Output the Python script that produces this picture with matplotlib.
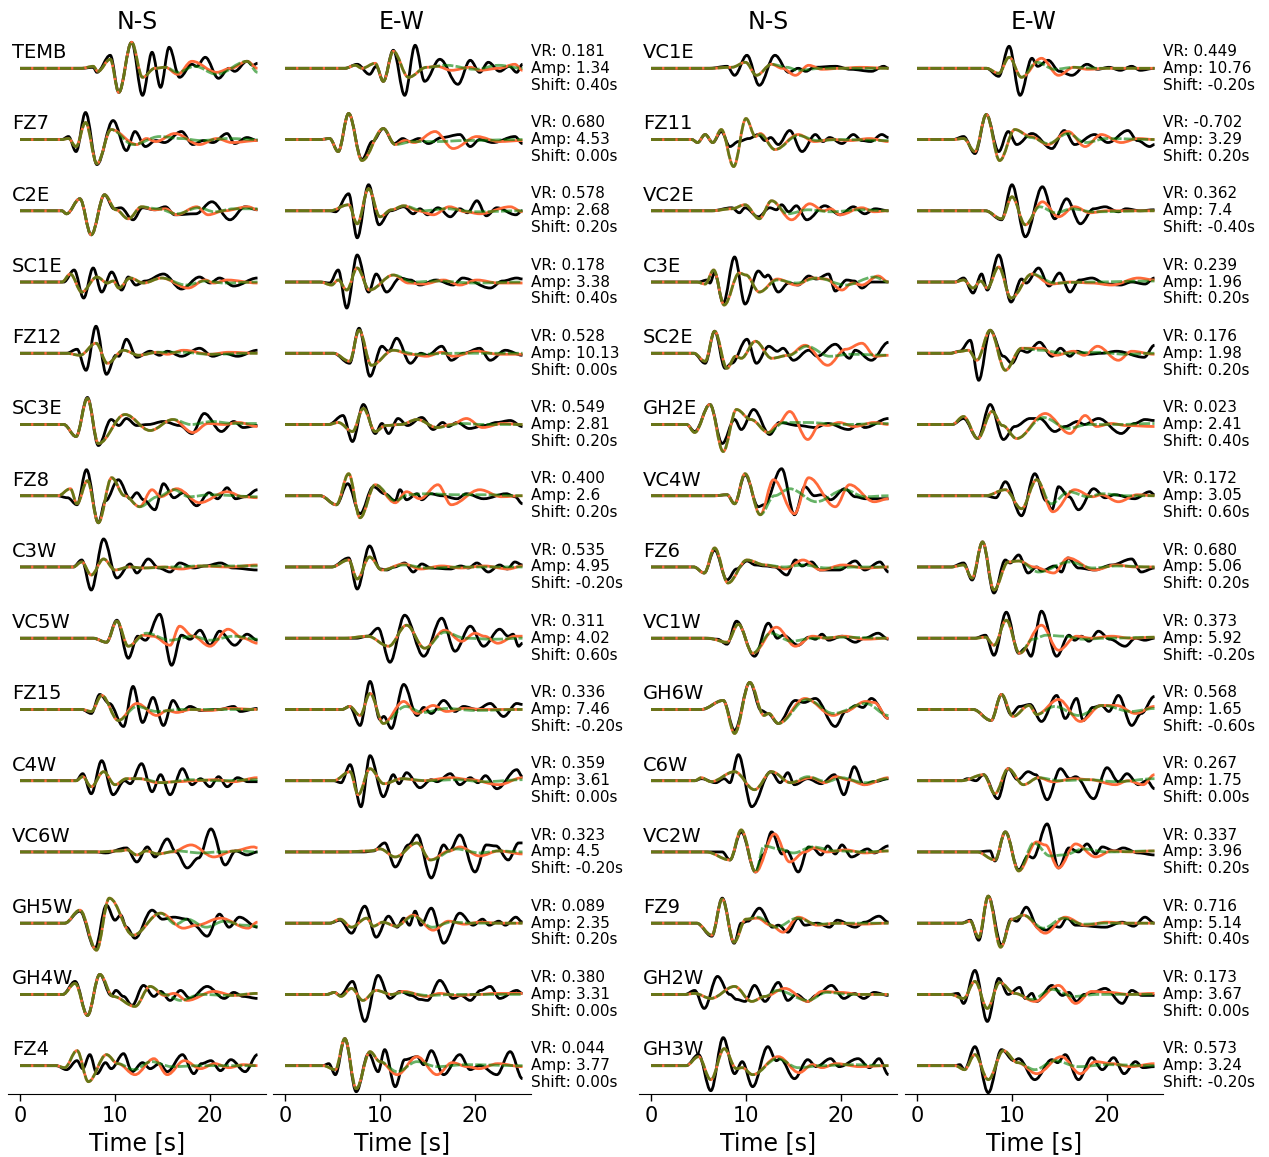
import matplotlib
matplotlib.use("Agg")
import matplotlib.pyplot as plt
from matplotlib.path import Path
from matplotlib.patches import PathPatch

# ---------------- data ----------------
left_stations = ["TEMB", "FZ7", "C2E", "SC1E", "FZ12", "SC3E", "FZ8", "C3W", "VC5W",
                 "FZ15", "C4W", "VC6W", "GH5W", "GH4W", "FZ4"]
left_vr = [0.181, 0.680, 0.578, 0.178, 0.528, 0.549, 0.400, 0.535, 0.311,
           0.336, 0.359, 0.323, 0.089, 0.380, 0.044]
left_amp = [1.34, 4.53, 2.68, 3.38, 10.13, 2.81, 2.6, 4.95, 4.02,
            7.46, 3.61, 4.5, 2.35, 3.31, 3.77]
left_shift = [0.40, 0.00, 0.20, 0.40, 0.00, 0.20, 0.20, -0.20, 0.60,
              -0.20, 0.00, -0.20, 0.20, 0.00, 0.00]

right_stations = ["VC1E", "FZ11", "VC2E", "C3E", "SC2E", "GH2E", "VC4W", "FZ6", "VC1W",
                  "GH6W", "C6W", "VC2W", "FZ9", "GH2W", "GH3W"]
right_vr = [0.449, -0.702, 0.362, 0.239, 0.176, 0.023, 0.172, 0.680, 0.373,
            0.568, 0.267, 0.337, 0.716, 0.173, 0.573]
right_amp = [10.76, 3.29, 7.4, 1.96, 1.98, 2.41, 3.05, 5.06, 5.92,
             1.65, 1.75, 3.96, 5.14, 3.67, 3.24]
right_shift = [-0.20, 0.20, -0.40, 0.20, 0.20, 0.40, 0.60, 0.20, -0.20,
               -0.60, 0.00, 0.20, 0.40, 0.00, -0.20]

# waveform extrema (time [s], normalised amplitude)
# ---- left block, N-S ----
obs_left_ns = [
    [(6.5,0),(7.7,1),(8.1,-4),(9.5,13),(10.4,-24),(11.75,26),(12.9,-27),(13.9,16),(14.8,-19),(15.7,21),(16.8,-9),(18.1,4),(18.6,2),(19.5,11),(20.9,-10),(22.0,0),(22.6,-3),(23.9,7),(24.5,3),(25,5)],
    [(4.4,0),(5.1,3),(5.9,-12),(6.9,27),(8.1,-25),(9.8,19),(11.2,-11),(12.1,8),(13.2,-7),(14.3,-1),(15.2,-3),(17.0,8),(18.2,-5),(19.3,-1),(20.3,-3),(21.8,6),(22.6,-4),(23.9,2),(25,-1)],
    [(4.4,0),(4.9,-3),(6.3,12),(7.5,-24),(8.9,16),(9.9,2),(10.6,3),(11.9,-9),(12.9,3),(14.2,1),(15.3,4),(16.3,-4),(18.5,-3),(20.2,9),(22.1,-9),(23.7,4),(25,1)],
    [(4.6,0),(5.7,12),(6.7,-16),(7.7,14),(8.6,-10),(9.65,10),(10.7,-8),(11.4,5),(12.2,-3),(13.2,1),(15.1,8),(17.0,-7),(18.9,5),(20.0,-1),(21.0,4),(22.5,-4),(25,4)],
    [(4.9,0),(6.0,4),(6.95,-17),(8.0,27),(9.1,-21),(10.1,-2),(10.4,-3),(11.2,14),(12.3,-4),(13.7,2),(14.7,-2),(15.5,2),(17.0,-3),(18.9,5),(20.3,-3),(21.5,0),(22.9,-3),(25,3)],
    [(4.6,0),(5.9,-12),(7.1,27),(8.25,-21),(9.6,5),(10.4,-1),(11.2,6),(12.3,-1),(13.5,0),(15.1,3),(16.8,-1),(18.1,-9),(19.4,11),(21.2,-7),(22.5,3),(23.5,-3),(25,-1)],
    [(3.9,0),(5.0,-2),(6.0,-9),(7.0,26),(8.25,-27),(9.0,-5),(10.35,16),(11.6,-3),(12.3,3),(13.0,-4),(14.2,-14),(15.1,12),(16.2,-2),(17.2,3),(18.6,-10),(19.9,3),(20.8,-3),(21.8,8),(22.7,-3),(23.7,-1),(25,6)],
    [(5.6,0),(6.5,7),(7.5,-23),(8.8,28),(10.2,-11),(11.6,3),(12.3,-6),(13.5,8),(14.6,-1),(15.8,-5),(16.8,4),(18.3,-1),(19.5,1),(21.1,4),(22.4,-1),(25,-3)],
    [(7.7,0),(9.1,-4),(10.2,18),(11.4,-20),(12.4,2),(13.2,-2),(14.7,24),(15.96,-27),(17.0,3),(17.9,-1),(18.95,8),(20.0,-7),(21.0,7),(22.6,-7),(23.9,4),(25,-2)],
    [(6.5,0),(7.5,-4),(8.4,15),(9.4,6),(10.9,-17),(11.9,23),(12.9,-13),(14.0,12),(15.1,-16),(16.1,9),(17.0,-2),(17.9,3),(19.0,-1),(21,0),(22.5,3),(23.2,-2),(25,1)],
    [(5.9,0),(6.6,7),(7.5,-13),(8.6,20),(9.8,-14),(11.0,0),(11.6,-3),(12.8,17),(13.9,-11),(14.8,6),(15.8,-14),(17.1,12),(18.1,-4),(19.0,2),(20.0,-6),(20.9,4),(21.8,-6),(22.9,3),(24,-1),(25,-1)],
    [(8.0,0),(9.0,-1),(11.2,4),(12.3,-10),(13.4,5),(14.2,-5),(15.5,13),(16.4,0),(17.6,-16),(18.8,-6),(20.1,23),(21.6,-13),(22.7,1),(23.9,-3),(25,0)],
    [(4.7,0),(6.3,12),(7.9,-25),(9.1,18),(10.0,3),(10.6,8),(11.2,-4),(12.1,-15),(13.9,13),(15.0,4),(16.2,6),(17.6,4),(18.3,-2),(19.7,-13),(21.0,9),(22.0,-4),(23.1,6),(25,-4)],
    [(4.5,0),(5.8,13),(7.1,-21),(8.4,20),(9.6,-1),(10.1,4),(10.9,-2),(11.8,-11),(13.0,9),(14.1,-2),(14.8,3),(15.8,-6),(16.9,4),(17.9,-4),(19.7,8),(21.5,-4),(22.5,2),(23.5,-2),(25,-4)],
    [(3.8,0),(4.9,-4),(6.0,5),(6.6,-3),(7.35,11),(8.1,-8),(9.0,3),(9.6,-3),(10.9,12),(11.8,-6),(12.9,3),(13.7,-3),(14.7,2),(15.5,-6),(17.1,11),(18.3,-8),(19.1,2),(20.1,5),(21.1,-5),(22.2,6),(23.7,-6),(25,11)],
]
syn_left_ns = [
    [(6.5,0),(7.7,2),(8.2,-3),(9.5,9),(10.4,-24),(11.75,26),(12.9,-9),(14.2,0),(15.3,1),(16.6,-6),(18.1,7),(20.7,-4),(22.2,0),(23.9,7),(25,0)],
    [(4.4,0),(5.1,1),(5.9,-7),(6.9,17),(8.1,-24),(9.6,10),(12.3,-5),(13.3,1),(14.3,-2),(16.3,6),(18.9,-5),(20.7,1),(22.3,-3),(25,-1)],
    [(4.4,0),(4.9,-3),(6.3,12),(7.5,-24),(8.9,16),(10.1,1),(11.4,-8),(12.8,4),(14.2,1),(15.3,2),(16.5,-4),(18.6,4),(19.8,-4),(21.5,0),(24.0,4),(25,1)],
    [(4.4,0),(5.3,8),(6.5,-10),(8.1,5),(9.2,-1),(9.8,1),(10.4,-6),(11.6,4),(13.0,-1),(14.9,4),(17.7,-6),(19.5,2),(20.4,-1),(21.8,2),(25,-1)],
    [(4.9,0),(6.3,-2),(8.0,10),(9.2,-10),(10.9,3),(12.5,-2),(14.5,1),(15.5,-1),(17.2,3),(20.0,-1),(22,1),(25,0)],
    [(4.6,0),(5.9,-12),(7.1,26),(8.25,-19),(11.05,10),(13.7,-6),(16.1,5),(18.2,-8),(19.8,1),(21.5,0),(23,2),(25,-2)],
    [(4.0,0),(5.3,7),(6.0,-8),(7.1,15),(8.25,-27),(9.65,18),(11.0,0),(12.6,-11),(13.9,6),(14.8,-1),(16.5,7),(18.9,-7),(21.8,4),(23.5,-1),(25,-2)],
    [(5.6,0),(6.5,5),(7.5,-8),(8.8,8),(10.0,-3),(11.5,0),(13,-1),(15,0),(17,-2),(19,1),(22,0),(25,2)],
    [(7.7,0),(9.1,-4),(10.2,17),(11.4,-8),(13.0,3),(14.0,2),(15.8,-7),(16.8,12),(18.2,2),(20.0,-8),(21.9,9),(23.5,0),(25,-5)],
    [(6.5,0),(7.5,-2),(8.6,14),(10.35,-11),(12.3,6),(14.4,-6),(15.5,-1),(16.5,-3),(18,0),(20,-1),(22,1),(25,0)],
    [(5.9,0),(6.6,4),(7.5,-6),(8.8,9),(10.0,-4),(11.2,2),(12.6,2),(14.5,-2),(16.5,-1),(18.5,0),(20.5,1),(22.5,-1),(25,3)],
    [(8.0,0),(10.5,1),(11.3,2),(12.3,-3),(13.3,1),(14.5,-2),(16.0,0),(18.0,7),(20.4,-5),(22.5,1),(24.6,5),(25,4)],
    [(4.7,0),(6.3,13),(8.05,-27),(9.4,25),(11.9,-12),(14.8,10),(17.2,-5),(18.6,-2),(21.1,5),(24.0,-5),(25,1)],
    [(4.5,0),(5.8,11),(7.1,-21),(8.4,20),(9.8,-2),(12.1,-12),(13.7,8),(15.2,-1),(16.2,1),(17.6,-6),(20.4,3),(22.5,-1),(25,1)],
    [(3.8,0),(4.7,-2),(6.0,15),(7.2,-16),(9.1,11),(10.3,2),(12.1,-9),(14.1,7),(15.5,-9),(17.3,5),(19.0,-3),(20.5,2),(22.0,-2),(23.5,1),(25,0)],
]
alt_left_ns = [
    [(6.5,0),(7.7,2),(8.2,-3),(9.5,9),(10.4,-24),(11.75,26),(12.9,-9),(14.2,0),(15.3,1),(16.6,-4),(18.4,2),(20.7,-6),(23.9,7),(25,-4)],
    [(4.4,0),(5.1,1),(5.9,-7),(6.9,17),(8.1,-24),(9.6,10),(11.9,-5),(14.7,3),(17,1),(19,-1),(22,1),(25,0)],
    [(4.4,0),(4.9,-3),(6.3,12),(7.5,-24),(8.9,16),(10.1,1),(11.4,-8),(12.8,4),(14.5,2),(16.5,-3),(18.8,3),(20.5,-1),(22.5,2),(25,2)],
    [(4.4,0),(5.3,8),(6.5,-10),(8.1,5),(9.2,-1),(9.8,1),(10.4,-6),(11.6,4),(13.0,-1),(14.9,4),(17.5,-3),(19.5,1),(21.5,-1),(25,0)],
    [(4.9,0),(6.3,-2),(8.0,10),(9.2,-10),(10.9,3),(12.5,-2),(14.5,1),(17,1),(20,-1),(25,0)],
    [(4.6,0),(5.9,-12),(7.1,26),(8.25,-19),(11.05,10),(13.7,-6),(16.1,5),(18.0,0),(20.2,3),(22.5,1),(25,1)],
    [(4.0,0),(5.3,7),(6.0,-8),(7.1,15),(8.25,-27),(9.65,18),(11.0,0),(12.6,-11),(14.5,-1),(16.2,6),(17.8,-1),(20,1),(25,-1)],
    [(5.6,0),(6.5,5),(7.5,-8),(8.8,8),(10.0,-3),(11.5,0),(13,-1),(16,0),(19,1),(25,1)],
    [(7.7,0),(9.1,-4),(10.2,17),(11.4,-8),(13.3,5),(15.8,-2),(18.2,2),(20.0,-2),(22.5,2),(25,-1)],
    [(6.5,0),(7.5,-2),(8.6,14),(10.35,-11),(12.3,3),(14.4,-2),(17,0),(25,0)],
    [(5.9,0),(6.6,4),(7.5,-6),(8.8,9),(10.0,-4),(11.2,2),(12.6,2),(15,-2),(18,1),(21,0),(25,1)],
    [(8.0,0),(10.5,1),(11.3,2),(12.3,-3),(13.3,1),(14.5,-2),(16.5,1),(19,-1),(21,0),(23,1),(25,0)],
    [(4.7,0),(6.3,13),(8.05,-27),(9.4,25),(11.9,-12),(14.8,10),(16.4,-1),(17.6,4),(19.6,-4),(21.5,2),(23.5,-2),(25,-3)],
    [(4.5,0),(5.8,11),(7.1,-21),(8.4,20),(9.8,-2),(12.1,-12),(13.7,8),(15.2,0),(16.9,-6),(19,0),(22,-1),(25,1)],
    [(3.8,0),(4.7,-2),(6.0,15),(7.2,-16),(9.1,11),(10.3,2),(12.0,-4),(13.8,4),(16,-1),(19,0),(25,0)],
]

# ---- left block, E-W ----
obs_left_ew = [
    [(6.3,0),(7.6,4),(8.9,-6),(9.6,2),(10.35,-13),(11.4,18),(12.6,-27),(13.7,23),(14.7,-13),(16.3,9),(18.2,-16),(19.5,8),(20.5,-4),(21.4,6),(22.6,-3),(23.6,2),(24.4,-4),(25,4)],
    [(3.7,0),(4.7,1),(5.6,-12),(6.7,26),(8.1,-20),(9.2,-2),(10.35,11),(11.5,-4),(12.4,1),(13.1,-2),(14.1,1),(15.1,-4),(16.5,2),(18.4,5),(19.5,-7),(20.5,0),(21.9,-3),(24.2,3),(25,-4)],
    [(4.7,0),(5.3,-1),(6.7,17),(7.6,-27),(8.8,26),(9.9,-14),(11.1,0),(12.5,4),(13.5,-3),(14.2,2),(15.0,-4),(16.1,3),(17.4,-6),(18.4,2),(19.2,-2),(20.2,10),(21.2,-5),(22.3,3),(24.3,-4),(25,0)],
    [(3.7,0),(4.7,-1),(5.6,12),(6.5,-26),(7.6,27),(8.8,-10),(9.6,8),(10.7,-10),(12.1,4),(13.2,2),(14.2,-3),(15.9,2),(17.7,-3),(18.7,4),(21.6,-6),(22.9,1),(24.4,4),(25,3)],
    [(5.1,0),(6.8,-10),(7.8,25),(8.95,-23),(10.2,7),(10.9,2),(11.75,15),(13.2,-10),(14.3,0),(15.0,-2),(16.5,7),(17.5,-7),(18.8,0),(20.5,5),(21.6,-7),(23.2,3),(25,-2)],
    [(4.6,0),(6.1,9),(7.1,-17),(8.25,20),(9.5,-9),(10.2,1),(10.9,-9),(11.9,6),(12.9,-1),(14.4,7),(15.6,-5),(16.6,2),(17.2,-2),(18.1,2),(19.4,-4),(21.0,-1),(22.3,2),(23.7,4),(25,-2)],
    [(3.7,0),(5.4,-9),(6.6,12),(7.9,-18),(9.3,9),(10.5,2),(11.6,-5),(12.1,6),(12.8,-4),(13.9,2),(14.4,-4),(15.3,2),(16.5,0),(18.1,-3),(19.1,2),(20.9,-3),(23.3,2),(24.2,-1),(25,-8)],
    [(4.9,0),(6.7,9),(7.6,-22),(8.9,21),(10.0,-2),(10.7,-3),(11.5,0),(12.6,4),(13.5,-5),(14.4,3),(15.4,-1),(17.4,-2),(18.5,1),(19.3,-1),(20.2,4),(21.4,-5),(22.6,2),(23.4,-2),(24.2,5),(25,2)],
    [(6.3,0),(7.5,0),(8.7,2),(9.8,10),(11.05,-24),(12.6,23),(14.6,-18),(16.5,20),(17.9,-13),(19.5,12),(20.9,-8),(22.6,9),(23.5,2),(24.0,4),(24.6,-8),(25,-5)],
    [(6.0,0),(6.8,3),(7.9,-16),(8.95,28),(10.0,-10),(10.4,-7),(11.2,-19),(12.5,25),(13.9,-6),(14.6,2),(15.4,-4),(16.7,9),(17.9,-2),(18.8,3),(20.2,0),(21.6,6),(23.0,-7),(24.4,6),(25,5)],
    [(5.1,0),(5.9,-2),(6.85,16),(8.0,-26),(8.95,25),(10.35,-16),(11.4,6),(12.0,-3),(12.8,8),(14.2,-7),(15.4,1),(16.0,-1),(17.4,7),(18.4,-4),(19.5,3),(20.3,-2),(21.1,5),(22.3,-8),(24.4,11),(25,4)],
    [(6.1,0),(8.3,0),(9.3,1),(10.5,9),(11.6,-15),(13.0,7),(13.9,17),(15.4,-26),(16.7,7),(17.3,1),(18.4,17),(20.0,-20),(21.2,7),(22.2,6),(23.5,-8),(24.6,9),(25,9)],
    [(4.7,0),(5.8,3),(7.0,-10),(8.4,17),(9.6,-14),(10.9,7),(11.8,-4),(12.5,5),(13.1,-2),(13.7,12),(14.3,-2),(15.4,15),(16.7,-20),(18.4,10),(19.8,-2),(20.8,4),(21.5,-2),(22.5,2),(23.2,-2),(24.3,6),(25,1)],
    [(4.4,0),(5.2,2),(5.8,-1),(7.1,13),(8.4,-27),(9.8,19),(11.05,-4),(12.1,3),(13.3,-1),(14.2,-5),(15.0,-6),(16.3,14),(17.7,-4),(18.5,-1),(19.5,-6),(20.6,4),(21.6,8),(22.6,-4),(24.4,4),(25,1)],
    [(4.0,0),(4.6,2),(5.3,-9),(6.3,27),(7.5,-26),(8.8,12),(9.8,-6),(10.5,16),(11.6,-21),(12.6,6),(13.9,9),(14.6,1),(15.4,15),(16.7,-9),(18.4,11),(19.5,-4),(20.5,0),(22.3,-9),(23.7,14),(25,-13)],
]
syn_left_ew = [
    [(6.3,0),(7.4,3),(8.1,0),(9.5,5),(10.35,-13),(11.4,17),(13.0,-9),(14.9,1),(16.0,2),(17.5,-2),(19.5,1),(20.5,-2),(22.5,0),(24.2,4),(25,-2)],
    [(3.7,0),(4.7,1),(5.6,-12),(6.7,26),(8.1,-21),(10.35,11),(11.6,-5),(12.6,-1),(13.6,-3),(15.8,8),(17.7,-9),(20.2,3),(22.5,-2),(25,-1)],
    [(4.7,0),(6.7,6),(7.6,-13),(8.8,22),(10.0,-6),(11.2,1),(12.5,5),(14.0,0),(15.6,-4),(17.3,4),(19.0,-1),(20.5,-3),(23.7,4),(25,-1)],
    [(3.7,0),(4.9,-3),(5.6,2),(6.5,-8),(7.6,14),(8.9,-8),(11.4,7),(13.0,-1),(14.6,-2),(16.7,2),(18.4,-3),(20.2,2),(22.5,-1),(25,-1)],
    [(5.1,0),(6.8,-8),(7.8,23),(9.1,-12),(11.4,3),(13.2,-1),(14.9,-3),(16.5,1),(17.7,-3),(20.2,2),(22.5,-1),(25,-1)],
    [(4.6,0),(5.6,2),(7.1,-7),(8.25,16),(9.5,-7),(10.6,-1),(12.2,0),(13.9,5),(16.0,-3),(17.5,0),(19.1,6),(20.8,-3),(22.9,1),(25,0)],
    [(3.7,0),(5.4,-9),(6.7,22),(7.9,-22),(9.5,11),(11.6,-7),(12.8,4),(14.2,-3),(16.1,11),(17.5,-9),(20.5,6),(22.8,-1),(25,0)],
    [(4.9,0),(6.7,7),(7.6,-12),(8.9,10),(10.2,-3),(12.5,3),(14.3,-2),(16.5,1),(18.5,-1),(21,1),(23.5,-2),(25,1)],
    [(6.3,0),(8.7,2),(10.9,-8),(12.8,13),(14.7,-10),(16.8,8),(18.6,-3),(20.0,5),(21.0,2),(22.4,-5),(24.2,2),(25,2)],
    [(6.0,0),(6.8,3),(7.9,-6),(8.95,16),(10.35,-14),(12.5,8),(13.9,-4),(15.6,4),(17.0,-2),(18.8,1),(21,0),(25,0)],
    [(5.1,0),(6.85,9),(7.7,-14),(8.95,12),(10.4,-3),(12.3,2),(14.5,0),(17.5,3),(19.5,1),(22.5,-4),(25,3)],
    [(6.1,0),(9.0,1),(10.0,3),(11.6,-5),(13.9,9),(15.3,-8),(17.3,1),(18.4,5),(20.5,-4),(22.5,1),(25,-2)],
    [(4.7,0),(5.8,4),(7.0,-4),(8.6,5),(9.3,-3),(10.3,1),(11.7,-3),(13.5,8),(15.6,-7),(17.2,2),(18.9,-1),(20.5,1),(22.5,0),(25,0)],
    [(4.4,0),(5.2,2),(5.9,-2),(7.0,6),(8.2,-6),(9.6,4),(11.2,0),(12.5,3),(14.9,-2),(16.3,1),(18.0,-1),(20.5,0),(22,1),(25,1)],
    [(4.0,0),(5.3,-4),(6.3,27),(7.5,-23),(8.95,14),(10.0,4),(11.8,-9),(13.9,9),(16.0,-9),(17.6,3),(19.2,-1),(20.4,-3),(22.4,2),(25,-1)],
]
alt_left_ew = [
    [(6.3,0),(7.4,3),(8.1,0),(9.5,5),(10.35,-13),(11.4,17),(13.0,-9),(14.9,1),(17,3),(20,-1),(22.5,3),(25,0)],
    [(3.7,0),(4.7,1),(5.6,-12),(6.7,26),(8.1,-21),(10.35,11),(11.6,-5),(13.5,-2),(16,-2),(19,-1),(25,0)],
    [(4.7,0),(6.7,6),(7.6,-13),(8.8,22),(10.0,-6),(11.2,1),(12.5,5),(14.5,0),(17,2),(20,-1),(25,0)],
    [(3.7,0),(4.9,-3),(5.6,2),(6.5,-8),(7.6,14),(8.9,-8),(11.4,7),(13.5,0),(16,1),(20,-1),(25,0)],
    [(5.1,0),(6.8,-8),(7.8,23),(9.1,-12),(11.4,3),(14,-1),(18,0),(25,0)],
    [(4.6,0),(5.6,2),(7.1,-7),(8.25,16),(9.5,-7),(10.6,-1),(12.2,0),(13.9,5),(16.0,-3),(18.5,1),(21,0),(25,0)],
    [(3.7,0),(5.4,-9),(6.7,22),(7.9,-22),(9.5,11),(11.6,-5),(13.0,1),(15,2),(18,1),(21,1),(25,0)],
    [(4.9,0),(6.7,7),(7.6,-12),(8.9,10),(10.2,-3),(12.5,2),(15,-1),(19,0),(25,0)],
    [(6.3,0),(8.7,2),(10.9,-8),(12.8,13),(14.7,-10),(16.8,6),(19,0),(22,-1),(25,0)],
    [(6.0,0),(6.8,3),(7.9,-6),(8.95,16),(10.35,-14),(12.7,3),(14.5,-3),(17,1),(20,-1),(25,0)],
    [(5.1,0),(6.85,9),(7.7,-14),(8.95,12),(10.4,-3),(12.3,2),(15,0),(18,1),(21,-1),(25,1)],
    [(6.1,0),(9.0,1),(10.0,3),(11.6,-5),(13.9,9),(15.3,-8),(18.0,3),(20.5,-1),(22.5,1),(25,0)],
    [(4.7,0),(5.8,4),(7.0,-4),(8.6,5),(9.3,-3),(10.3,1),(11.7,-3),(13.5,7),(15.5,-4),(17.5,1),(20,0),(25,0)],
    [(4.4,0),(5.2,2),(5.9,-2),(7.0,6),(8.2,-6),(9.6,4),(11.2,0),(12.5,2),(15,-1),(18,0),(25,0)],
    [(4.0,0),(5.3,-4),(6.3,27),(7.5,-23),(8.95,14),(10.0,4),(11.8,-6),(13.9,4),(16,-1),(19,1),(25,0)],
]

# ---- right block, N-S ----
obs_right_ns = [
    [(6.2,0),(8.0,2),(8.8,-7),(10.1,13),(11.4,-17),(13.05,13),(14.5,-4),(15.5,0),(16.3,-3),(17.2,1),(19.4,2),(21.0,-1),(23.2,-3),(24.5,2),(25,0)],
    [(4.3,0),(4.9,-3),(5.7,5),(6.5,-3),(7.4,8),(8.3,-7),(9.2,-2),(10.3,1),(11.3,5),(12.0,-1),(12.6,2),(13.4,-5),(14.6,9),(15.9,-12),(17.3,5),(18.1,-2),(18.8,2),(20.1,-4),(21.3,5),(22.2,-1),(23.1,-2),(24.3,5),(25,2)],
    [(6.4,0),(8.5,3),(9.3,-2),(9.9,3),(11.3,-6),(12.5,3),(13.2,1),(13.75,6),(14.5,-1),(15.3,5),(16.4,-9),(18.3,5),(19.9,-4),(21.3,4),(22.5,-3),(23.6,2),(25,0)],
    [(5.0,0),(5.9,2),(6.2,-1),(6.7,9),(7.6,-21),(8.8,25),(9.9,-22),(11.3,11),(12.0,5),(12.3,7),(13.4,-10),(14.5,-1),(15.5,-3),(16.6,6),(17.4,3),(18.7,8),(19.4,-9),(20.6,2),(21.4,1),(22.2,-6),(23.2,0),(25,0)],
    [(4.5,0),(5.7,-10),(6.7,22),(7.8,-15),(8.5,-10),(10.1,14),(11.1,-10),(12.4,7),(13.3,2),(13.9,5),(15.0,-7),(16.6,3),(17.5,-3),(19.4,9),(20.9,-5),(21.5,3),(23.2,-7),(25,11)],
    [(3.75,0),(4.6,-7),(6.2,20),(7.5,-19),(8.8,5),(9.5,-5),(10.8,15),(12.5,-10),(13.5,2),(15.5,-1),(17.3,-3),(18.6,1),(20.8,-5),(21.9,0),(22.5,-3),(25,6)],
    [(6.7,0),(8.0,1),(8.8,-8),(9.9,21),(11.3,-11),(11.9,-9),(13.75,27),(15.1,-19),(16.2,9),(17.2,0),(18.0,1),(18.9,-4),(20.4,7),(21.5,-1),(22.6,-3),(25,-3)],
    [(4.5,0),(5.6,-6),(6.7,17),(8.0,-13),(9.0,-2),(10.1,6),(11.0,2),(12.0,1),(13.0,0),(14.3,-8),(15.2,7),(15.9,1),(16.9,5),(17.8,-3),(19.8,-3),(21.5,6),(22.5,-3),(24.1,5),(25,-5)],
    [(5.7,0),(7.0,-1),(8.0,-6),(9.0,17),(10.9,-18),(12.35,15),(13.3,0),(13.9,3),(15.5,-7),(16.6,1),(17.3,-1),(18.0,4),(18.7,-2),(20.1,2),(21.5,-4),(22.5,0),(23.9,5),(25,-1)],
    [(5.3,0),(7.6,9),(8.8,-21),(10.4,27),(11.6,-1),(12.3,-4),(13.4,-14),(15.2,9),(16.1,7),(17.3,11),(19.4,-17),(20.5,-2),(21.6,4),(22.3,2),(23.2,11),(25,-9)],
    [(4.6,0),(5.3,2),(6.8,-2),(7.7,2),(8.3,-2),(9.2,26),(10.6,-26),(12.6,9),(13.6,-2),(14.4,8),(15.1,-4),(16.5,2),(17.9,-3),(19.3,6),(20.3,-14),(21.4,14),(22.4,-4),(23.5,-1),(25,2)],
    [(5.8,0),(7.5,0),(8.3,-8),(9.5,20),(11.0,-20),(11.8,-3),(12.7,20),(13.8,-2),(14.3,1),(15.5,-20),(16.6,5),(17.0,4),(17.9,-3),(18.6,6),(19.4,-2),(20.1,7),(21.1,-5),(22.8,3),(23.5,-1),(25,6)],
    [(4.8,0),(6.4,-13),(7.5,25),(8.75,-20),(9.5,0),(10.2,2),(11.4,15),(12.8,-4),(13.4,-2),(14.4,-9),(15.5,5),(16.2,-2),(17.5,0),(18.8,-4),(19.6,3),(21.5,-4),(22.5,1),(24.0,7),(25,1)],
    [(3.6,0),(4.6,4),(5.6,-14),(7.0,18),(8.3,0),(9.0,-5),(9.9,-7),(10.9,9),(12.0,-7),(13.4,12),(14.4,-6),(15.3,0),(16.5,-7),(17.4,-1),(19.0,9),(20.3,-4),(21.4,1),(22.4,-4),(23.5,2),(25,-1)],
    [(3.7,0),(5.0,11),(6.3,-25),(7.6,28),(8.8,-8),(9.6,4),(10.7,-21),(12.3,19),(13.2,5),(13.6,7),(15.1,-13),(16.5,6),(17.4,-1),(18.9,7),(19.8,-1),(21.8,7),(23.0,-2),(24.0,7),(25,-9)],
]
syn_right_ns = [
    [(6.2,0),(8.5,1),(9.95,6),(11.1,-7),(12.7,4),(13.8,0),(15.2,-7),(16.6,3),(18,-1),(20,0),(22,1),(25,0)],
    [(4.3,0),(4.9,-3),(5.7,5),(6.5,-3),(7.4,10),(8.7,-27),(10.0,21),(11.0,3),(11.5,6),(13.05,-10),(15.5,5),(17.2,-2),(19.0,0),(21,-1),(23,1),(25,-2)],
    [(6.4,0),(8.5,2),(9.9,6),(11.4,-8),(12.7,10),(14.8,-9),(16.7,7),(18.2,0),(18.9,2),(19.9,-4),(22.2,3),(23.5,-1),(25,0)],
    [(4.8,0),(5.7,-2),(6.6,12),(7.7,-23),(9.3,9),(10.0,7),(11.4,-10),(13.3,3),(15.3,-3),(17.0,4),(18.4,3),(20.1,-8),(21.2,-1),(22.2,-3),(23.9,6),(25,0)],
    [(4.5,0),(5.7,-8),(6.7,22),(8.0,-15),(8.9,-3),(9.5,-5),(11.0,12),(12.7,-5),(14.5,-2),(16.2,8),(18.6,-12),(20.5,4),(22.2,10),(23.6,-3),(25,-2)],
    [(3.75,0),(4.6,-8),(6.2,20),(7.6,-27),(9.0,15),(10.5,5),(12.35,-8),(13.3,0),(14.6,13),(16.5,-15),(17.8,0),(18.6,-1),(19.8,2),(21.4,-2),(23.5,2),(25,0)],
    [(6.7,0),(8.0,1),(8.8,-8),(9.9,22),(11.5,-19),(12.9,16),(15.1,-18),(16.6,18),(19.4,-11),(20.9,11),(23.5,-6),(25,-3)],
    [(4.5,0),(5.6,-6),(6.7,19),(8.1,-16),(10.1,7),(12.0,2),(13.3,0),(14.1,-2),(16.0,7),(17.9,-3),(20.2,2),(22.5,-1),(25,0)],
    [(6.0,0),(8.0,-4),(9.2,14),(10.7,-15),(13.2,11),(15.2,-8),(17.0,2),(18.5,0),(20.3,2),(22.5,-1),(25,0)],
    [(5.3,0),(7.6,9),(8.8,-24),(10.4,27),(11.9,-6),(12.4,-4),(13.4,-14),(16.2,11),(19.2,-6),(20.4,-2),(22.6,8),(23.5,7),(25,-9)],
    [(4.6,0),(5.3,3),(6.3,-1),(8.8,9),(10.9,-9),(12.7,9),(14.7,-2),(16.8,3),(18.3,-2),(19.5,4),(20.7,1),(22.5,-4),(25,3)],
    [(5.8,0),(8.3,-8),(9.5,22),(11.0,-20),(13.0,18),(14.6,-10),(16.2,0),(17.2,4),(18.5,0),(20.5,2),(22.5,-1),(25,1)],
    [(4.8,0),(6.4,-12),(7.5,24),(8.75,-19),(10.0,4),(11.2,5),(12.6,-2),(13.9,-9),(15.5,6),(17.5,-2),(19.5,0),(22,-1),(25,0)],
    [(3.6,0),(4.6,1),(6.3,-4),(8.8,8),(10.6,-7),(12.0,-2),(14.1,6),(16.5,-7),(18.0,3),(20.0,2),(22.0,0),(25,0)],
    [(3.7,0),(5.0,9),(6.3,-14),(7.7,17),(9.0,-3),(9.6,-2),(10.7,-9),(13.4,9),(15.6,-7),(17.0,1),(18.0,-2),(19.5,2),(22,-1),(25,0)],
]
alt_right_ns = [
    [(6.2,0),(8.5,1),(9.95,6),(11.1,-7),(12.7,4),(14.3,1),(15.5,-2),(18,0),(25,0)],
    [(4.3,0),(4.9,-3),(5.7,5),(6.5,-3),(7.4,10),(8.7,-27),(10.0,21),(11.0,3),(11.5,5),(13.05,-10),(15.5,4),(17.5,-1),(20,0),(25,-1)],
    [(6.4,0),(8.5,2),(9.9,6),(11.4,-8),(12.7,10),(14.4,-3),(16.5,1),(19,-1),(22,1),(25,0)],
    [(4.8,0),(5.7,-2),(6.6,12),(7.7,-23),(9.3,9),(10.0,7),(11.4,-10),(13.3,2),(15.3,-1),(17.5,4),(20.5,-3),(23.5,5),(25,0)],
    [(4.5,0),(5.7,-8),(6.7,22),(8.0,-15),(8.9,-3),(9.5,-5),(11.0,12),(12.7,-5),(14.5,-2),(16.4,7),(18.8,-3),(21,-1),(25,-2)],
    [(3.75,0),(4.6,-8),(6.2,20),(7.6,-27),(9.0,15),(10.5,5),(12.35,-8),(14.0,2),(16.5,2),(20,0),(25,1)],
    [(6.7,0),(8.0,1),(8.8,-8),(9.9,22),(11.5,-19),(13.0,0),(14.6,7),(17.4,-6),(20.4,6),(22.5,-1),(25,0)],
    [(4.5,0),(5.6,-6),(6.7,19),(8.1,-16),(10.1,7),(12.0,2),(14,0),(16,2),(18.5,-1),(22,0),(25,0)],
    [(6.0,0),(8.0,-4),(9.2,14),(10.7,-15),(12.6,5),(14.8,-3),(17,0),(20,1),(25,0)],
    [(5.3,0),(7.6,9),(8.8,-24),(10.4,27),(11.9,-6),(12.4,-4),(13.4,-14),(16.4,10),(19.2,-4),(22.6,6),(25,-6)],
    [(4.6,0),(5.3,3),(6.3,-1),(8.8,9),(10.9,-9),(12.7,9),(14.7,-2),(16.5,4),(18.5,-1),(20,3),(22.5,-2),(25,2)],
    [(5.8,0),(8.3,-8),(9.5,22),(11.0,-20),(11.9,6),(13.5,3),(15.0,-1),(17,5),(19.5,1),(22.5,0),(25,1)],
    [(4.8,0),(6.4,-12),(7.5,24),(8.75,-19),(10.0,4),(11.2,6),(13.2,-4),(15.4,5),(17.5,-1),(20,0),(25,0)],
    [(3.6,0),(4.6,1),(6.3,-4),(8.8,8),(10.6,-7),(12.0,-2),(13.3,4),(16.5,-6),(18.5,2),(21,0),(25,0)],
    [(3.7,0),(5.0,9),(6.3,-14),(7.7,17),(9.0,-3),(9.6,-2),(10.7,-9),(13.3,7),(15.5,-2),(18,0),(21,1),(25,0)],
]

# ---- right block, E-W ----
obs_right_ew = [
    [(7.3,0),(8.6,-8),(9.7,22),(10.85,-27),(12.1,10),(12.7,2),(13.8,8),(15.0,-3),(16.3,-7),(17.9,4),(19.0,-1),(20.2,1),(21.4,-2),(22.6,2),(23.5,-2),(25,0)],
    [(3.8,0),(4.9,3),(6.1,-14),(7.3,25),(8.6,-12),(9.6,8),(10.5,-5),(12.1,6),(14.2,-9),(15.5,9),(16.6,-5),(18.7,5),(20.1,-3),(22.2,9),(23.2,-1),(24.5,-7),(25,-5)],
    [(7.2,0),(8.9,-9),(10.0,26),(11.4,-26),(13.2,24),(14.5,-8),(15.75,12),(17.2,-13),(18.6,2),(19.8,4),(21.2,-1),(22.0,2),(23.5,0),(25,1)],
    [(4.0,0),(4.9,4),(5.9,-11),(6.8,8),(7.4,-8),(8.6,27),(9.9,-20),(11.0,3),(11.5,-1),(12.8,14),(13.9,-4),(15.0,9),(16.1,-10),(17.1,2),(18.4,4),(19.9,-2),(21.4,-3),(22.6,0),(24,-2),(25,4)],
    [(3.5,0),(4.5,2),(5.6,13),(6.5,-27),(7.7,23),(9.1,-3),(10.0,-10),(10.9,3),(11.6,1),(12.9,11),(14.2,-3),(15.1,5),(16.1,-3),(16.8,2),(18.0,-1),(19.5,0),(21.0,2),(23.9,-4),(25,8)],
    [(3.7,0),(4.9,6),(6.4,-14),(7.7,20),(9.1,-15),(10.3,-2),(11.9,6),(12.9,6),(14.5,-7),(15.6,-2),(16.9,3),(17.6,0),(19.1,6),(21.5,-9),(22.9,1),(24.0,5),(25,4)],
    [(7.2,0),(8.3,-2),(9.3,14),(11.0,-20),(12.4,22),(13.6,-5),(14.2,-14),(14.9,9),(16.0,-1),(17.0,-14),(18.6,7),(19.8,-2),(20.8,1),(22.9,-3),(24.5,4),(25,1)],
    [(3.6,0),(4.9,4),(5.8,-13),(6.9,25),(8.1,-26),(9.3,7),(9.8,4),(10.7,12),(11.7,-6),(12.6,0),(13.1,-4),(14.5,1),(15.2,-5),(15.9,9),(17.0,-1),(18.7,-3),(20.5,2),(22.6,8),(23.6,-5),(25,-1)],
    [(6.1,0),(7.2,3),(8.1,-17),(9.4,26),(10.7,-15),(11.4,-10),(12.0,-18),(13.1,27),(14.7,-18),(16.0,3),(16.6,-2),(17.3,2),(18.1,-3),(19.1,7),(20.3,-1),(21.9,-8),(23.0,0),(24.0,-2),(25,0)],
    [(5.9,0),(7.8,-11),(8.9,15),(9.9,-5),(10.8,3),(11.9,5),(13.1,-12),(14.7,14),(15.6,-9),(16.8,11),(17.5,-11),(18.5,2),(19.4,4),(20.2,-2),(21.2,14),(22.6,-16),(23.6,-4),(25,13)],
    [(4.7,0),(5.3,2),(6.2,0),(7.0,6),(8.5,-18),(9.6,12),(10.6,1),(11.7,9),(12.5,6),(13.7,-19),(15.1,12),(16.1,2),(16.7,4),(18.6,-18),(20.0,13),(21.2,-1),(22.1,7),(23.3,-4),(24.2,0),(25,-8)],
    [(6.3,0),(7.7,1),(8.2,-9),(9.3,20),(10.7,-18),(11.7,-4),(12.2,-6),(13.7,28),(14.9,-16),(16.0,4),(17.0,0),(17.9,8),(18.8,-2),(19.5,5),(20.8,1),(21.7,4),(23.3,-1),(25,-3)],
    [(4.7,0),(5.6,3),(6.5,-17),(7.5,27),(8.9,-22),(9.9,4),(10.5,2),(11.5,16),(12.8,-5),(13.6,-7),(14.4,-3),(15.0,-4),(15.8,5),(16.7,-2),(19.8,-4),(21.6,1),(22.8,-3),(24.0,6),(25,0)],
    [(3.5,0),(4.3,1),(4.9,-9),(6.1,24),(7.4,-27),(8.6,16),(9.6,0),(10.8,7),(11.4,-4),(12.1,1),(12.6,-7),(14.2,9),(15.3,-1),(16.0,2),(16.8,-7),(17.6,0),(18.5,2),(19.8,6),(21.6,-9),(22.6,4),(23.7,-1),(25,-1)],
    [(4.0,0),(4.5,1),(5.0,-4),(6.1,19),(7.5,-27),(8.9,16),(10.2,5),(10.7,7),(12.4,-14),(14.2,6),(14.8,3),(15.6,11),(17.0,-14),(18.4,8),(19.5,-4),(20.7,8),(21.8,-8),(23.0,4),(23.8,-2),(25,-1)],
]
syn_right_ew = [
    [(7.3,0),(8.6,-5),(9.7,11),(11.0,-9),(13.1,10),(14.9,-7),(16.5,1),(18,-1),(20,0),(25,0)],
    [(3.8,0),(4.9,1),(6.1,-12),(7.3,25),(8.7,-21),(10.3,10),(12.0,3),(13.8,-5),(15.9,8),(17.7,-7),(19.4,5),(21.5,-3),(23.3,1),(25,0)],
    [(7.2,0),(8.9,-8),(10.0,14),(11.4,-14),(13.2,9),(14.9,-6),(16.6,4),(18.2,-2),(20,0),(25,0)],
    [(4.0,0),(4.9,2),(5.9,-6),(6.7,1),(7.4,-6),(8.6,15),(9.9,-16),(12.1,8),(14.1,-2),(16.2,0),(18.4,-1),(20.5,-3),(23.3,4),(25,2)],
    [(3.5,0),(4.6,2),(5.4,3),(6.3,-7),(7.7,23),(9.3,-17),(11.0,5),(13.1,5),(14.6,-2),(16.5,2),(17.6,-2),(19.0,7),(21.2,-7),(22.6,2),(25,-1)],
    [(3.7,0),(4.9,8),(6.4,-14),(7.9,13),(9.0,-1),(10.5,-14),(13.5,11),(16.1,-9),(17.7,9),(18.9,-2),(20.5,1),(22,-1),(25,-2)],
    [(7.2,0),(9.3,6),(11.0,-13),(12.6,16),(14.3,-16),(16.6,6),(18.5,-1),(19.4,1),(21.2,-6),(23.2,1),(25,0)],
    [(3.6,0),(4.9,2),(5.8,-11),(6.9,25),(8.1,-23),(9.6,5),(10.7,6),(12.3,0),(14.4,-6),(15.9,9),(18.7,-3),(20.9,2),(23,0),(25,0)],
    [(6.1,0),(7.2,1),(8.1,-7),(9.4,18),(10.8,-15),(13.1,13),(14.9,-12),(16.8,2),(18.3,0),(20.5,2),(22.5,0),(25,1)],
    [(5.9,0),(7.8,-11),(8.9,15),(10.1,-7),(11.8,4),(12.6,-5),(14.9,10),(17.2,-12),(19.4,4),(21.0,4),(23.0,-4),(25,3)],
    [(4.7,0),(7.0,6),(8.2,-13),(9.6,12),(11.2,-4),(12.8,3),(14.3,-1),(16.6,2),(18.2,1),(20.9,-4),(22.2,0),(23.8,-4),(25,6)],
    [(6.3,0),(8.2,-8),(9.3,20),(10.7,-19),(12.6,10),(13.5,7),(14.9,-16),(16.7,8),(18.8,-5),(20.5,1),(22.5,0),(25,1)],
    [(4.7,0),(5.6,2),(6.5,-14),(7.5,27),(8.8,-24),(10.0,4),(11.2,8),(13.5,-10),(15.6,6),(17.7,-2),(20,1),(22,0),(25,0)],
    [(3.5,0),(4.9,-4),(6.1,13),(7.4,-14),(8.7,12),(10.3,1),(12.4,-7),(14.9,9),(16.7,-9),(18.4,3),(20.3,2),(22.3,0),(25,1)],
    [(4.0,0),(5.0,-4),(6.1,11),(7.5,-14),(9.1,15),(10.6,3),(12.6,-8),(15.2,9),(17.2,-8),(18.8,4),(20.5,2),(22.5,-1),(25,2)],
]
alt_right_ew = [
    [(7.3,0),(8.6,-5),(9.7,11),(11.0,-9),(12.6,6),(14.5,-1),(16.5,1),(19,0),(25,0)],
    [(3.8,0),(4.9,1),(6.1,-12),(7.3,25),(8.7,-21),(10.3,10),(12.0,2),(13.8,-4),(15.9,6),(17.7,-3),(20,1),(25,0)],
    [(7.2,0),(8.9,-8),(10.0,14),(11.4,-14),(12.9,4),(14.6,-2),(16.3,2),(18.5,-1),(25,0)],
    [(4.0,0),(4.9,2),(5.9,-6),(6.7,1),(7.4,-6),(8.6,15),(9.9,-16),(12.1,8),(14.5,-1),(18,0),(25,1)],
    [(3.5,0),(4.6,2),(5.4,3),(6.3,-7),(7.7,23),(9.3,-17),(11.0,5),(13.1,3),(15.5,0),(19,1),(22,-1),(25,0)],
    [(3.7,0),(4.9,8),(6.4,-14),(7.9,13),(9.0,-1),(10.5,-14),(13.3,7),(15.9,-4),(18,0),(21,0),(25,1)],
    [(7.2,0),(9.3,6),(11.0,-13),(12.6,16),(14.1,-8),(16.0,4),(18.0,-1),(19.5,2),(22,0),(25,0)],
    [(3.6,0),(4.9,2),(5.8,-11),(6.9,25),(8.1,-23),(9.6,5),(10.7,6),(12.8,-5),(16.0,5),(18.5,-1),(21,1),(25,0)],
    [(6.1,0),(7.2,1),(8.1,-7),(9.4,18),(10.8,-15),(12.2,-1),(13.6,3),(15.5,2),(17.5,-1),(20,0),(25,1)],
    [(5.9,0),(7.8,-11),(8.9,15),(10.1,-7),(11.8,4),(12.6,-5),(14.5,3),(17.0,-6),(19.6,4),(22.5,-2),(25,1)],
    [(4.7,0),(7.0,6),(8.2,-13),(9.6,12),(11.2,-4),(12.8,3),(15,0),(18,1),(21,-1),(25,2)],
    [(6.3,0),(8.2,-8),(9.3,20),(10.7,-19),(12.3,9),(14.0,-4),(15.5,-3),(17.5,3),(20,0),(25,1)],
    [(4.7,0),(5.6,2),(6.5,-14),(7.5,27),(8.8,-24),(10.0,4),(11.2,8),(13.3,-5),(15.4,5),(17.5,-1),(20,0),(25,0)],
    [(3.5,0),(4.9,-4),(6.1,13),(7.4,-14),(8.7,12),(10.3,1),(12.1,-5),(14.2,5),(16.5,-2),(19,0),(25,0)],
    [(4.0,0),(5.0,-4),(6.1,11),(7.5,-14),(9.1,15),(10.6,3),(12.4,-4),(14.5,5),(17,-1),(20,1),(25,0)],
]

xticks = [0, 10, 20]
col_titles = ["N-S", "E-W", "N-S", "E-W"]

# ---------------- drawing ----------------
W, H = 1269, 1157
fig = plt.figure(figsize=(W / 100, H / 100), dpi=100)

K = 0.363  # Bezier handle length (smooth line style)


def smooth_path(pts):
    verts = [(0.0, 0.0), pts[0]]
    codes = [Path.MOVETO, Path.LINETO]
    for (t0, a0), (t1, a1) in zip(pts[:-1], pts[1:]):
        dt = t1 - t0
        verts += [(t0 + K * dt, a0), (t1 - K * dt, a1), (t1, a1)]
        codes += [Path.CURVE4] * 3
    return Path(verts, codes)


OBS_C = "black"
SYN_C = "#ff6a3a"
ALT_C = "green"
LW = 2.0

columns = [
    (obs_left_ns, syn_left_ns, alt_left_ns, left_stations, None),
    (obs_left_ew, syn_left_ew, alt_left_ew, left_stations, (left_vr, left_amp, left_shift)),
    (obs_right_ns, syn_right_ns, alt_right_ns, right_stations, None),
    (obs_right_ew, syn_right_ew, alt_right_ew, right_stations, (right_vr, right_amp, right_shift)),
]
x0_px = [20, 285, 651, 917]
pps = 9.5
XL = (-1.3, 25.9)
half_h = 28.3
row0 = 68.3
row_dy = 71.24

for c, (obs, syn, alt, names, stats) in enumerate(columns):
    left = (x0_px[c] + XL[0] * pps) / W
    width = (XL[1] - XL[0]) * pps / W
    for i in range(15):
        base = row0 + row_dy * i
        bottom = 1 - (base + half_h) / H
        ax = fig.add_axes([left, bottom, width, 2 * half_h / H])
        ax.set_xlim(*XL)
        ax.set_ylim(-half_h, half_h)
        ax.add_patch(PathPatch(smooth_path(obs[i]), fill=False, ec=OBS_C, lw=LW,
                               clip_on=False, zorder=2))
        ax.add_patch(PathPatch(smooth_path(syn[i]), fill=False, ec=SYN_C, lw=LW,
                               clip_on=False, zorder=3))
        ax.add_patch(PathPatch(smooth_path(alt[i]), fill=False, ec=ALT_C, lw=LW,
                               alpha=0.6, linestyle=(0, (4, 0.8)), clip_on=False, zorder=4))
        for s in ["top", "left", "right"]:
            ax.spines[s].set_visible(False)
        ax.set_yticks([])
        ax.patch.set_visible(False)
        if i == 14:
            ax.set_xticks(xticks)
            ax.tick_params(axis="x", labelsize=15, length=5, width=1)
            ax.set_xlabel("Time [s]", fontsize=17, labelpad=4)
        else:
            ax.spines["bottom"].set_visible(False)
            ax.set_xticks([])
        if i == 0:
            ax.set_title(col_titles[c], fontsize=17, pad=8)
        if c in (0, 2):
            ax.text(0.017, 0.68, names[i], transform=ax.transAxes, fontsize=14,
                    va="baseline", ha="left")
        if stats is not None:
            vr, amp, sh = stats
            ax.text(1.0, 0.5, f"VR: {vr[i]:.3f}\nAmp: {amp[i]}\nShift: {sh[i]:.2f}s",
                    transform=ax.transAxes, fontsize=11, va="center", ha="left",
                    linespacing=1.15)

fig.savefig("out.png", dpi=100)
